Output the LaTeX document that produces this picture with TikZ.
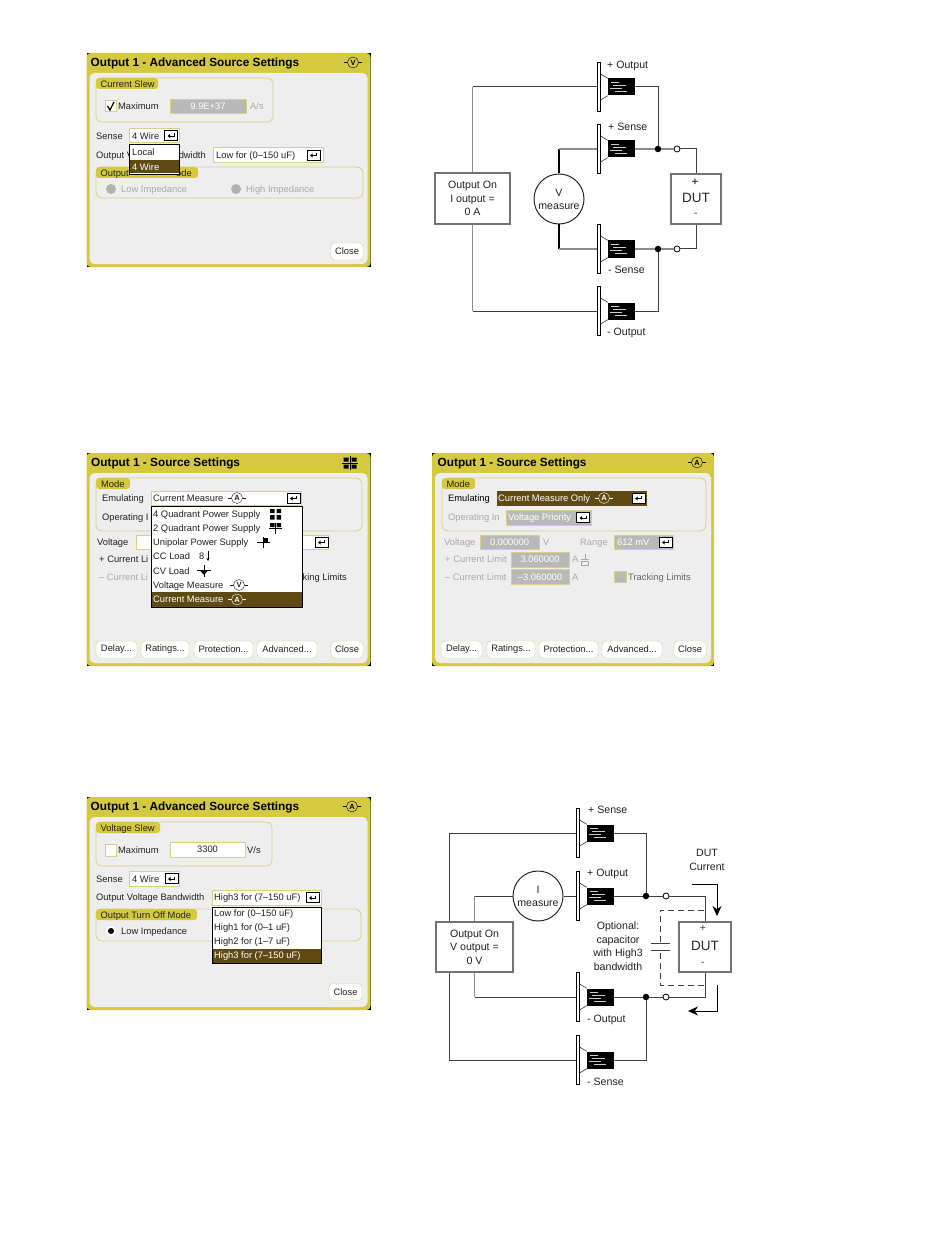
\documentclass[tikz,border=0pt]{standalone}
\usepackage{fontspec}
\setmainfont{Liberation Sans}
\usetikzlibrary{arrows.meta}
\definecolor{panely}{HTML}{D5C940}
\definecolor{panelg}{HTML}{EEEEEE}
\definecolor{edgey}{HTML}{D8D184}
\definecolor{seldark}{HTML}{5E4A12}
\definecolor{dimbox}{HTML}{B9B9B9}
\definecolor{dimtxt}{HTML}{A9A9A9}
\definecolor{inktxt}{HTML}{222222}
\tikzset{
  lbl/.style={anchor=west,inner sep=0pt,text height=8pt,text depth=1.5pt,text=inktxt,font=\fontsize{9.35}{10}\selectfont},
  rlbl/.style={lbl,anchor=east},
  dim/.style={lbl,text=dimtxt},
  seltxt/.style={lbl,text=white},
  ttl/.style={lbl,text=black,font=\fontsize{11.8}{12}\bfseries\selectfont},
  ctr/.style={inner sep=0pt,text=inktxt,align=center,font=\fontsize{9.35}{12.5}\selectfont},
  circtxt/.style={lbl,font=\fontsize{10.6}{11}\selectfont},
  uibtn/.style={draw=edgey,fill=white,rounded corners=4pt,minimum height=17pt,inner sep=0pt,text=inktxt,font=\fontsize{9.35}{10}\selectfont},
  groupbox/.style={draw=edgey,line width=.8pt,rounded corners=6pt},
  grouptab/.style={fill=panely,rounded corners=3pt},
  fieldw/.style={fill=white,draw=edgey,line width=.8pt},
  fieldd/.style={fill=dimbox,draw=edgey,line width=.8pt},
  wire/.style={draw=black!75,line width=1pt},
  graywire/.style={draw=black!45,line width=1.3pt},
  blackwire/.style={draw=black,line width=1.3pt},
  arrowline/.style={draw=black,line width=.8pt},
  plate/.style={draw=black,fill=white,line width=1pt,minimum width=3.5pt,minimum height=49pt,inner sep=0pt},
  coil/.style={fill=black,minimum width=27pt,minimum height=17pt,inner sep=0pt},
  bigbox/.style={draw=black!55,fill=white,line width=1.2pt,inner sep=0pt,text=inktxt,align=center,font=\fontsize{10.6}{13.5}\selectfont},
  dutname/.style={inner sep=0pt,text=black!85,font=\fontsize{13.5}{14}\selectfont},
  dutsign/.style={inner sep=0pt,text=black!75,font=\fontsize{10.6}{11}\selectfont},
  meter/.style={circle,draw=black!85,fill=white,line width=1pt,minimum size=50pt,inner sep=0pt,text=inktxt,align=center,font=\fontsize{10.6}{13}\selectfont},
  jointb/.style={circle,fill=black,minimum size=6.5pt,inner sep=0pt},
  jointw/.style={circle,draw=black,fill=white,line width=.8pt,minimum size=6pt,inner sep=0pt},
}
% panel frame with title bar
\newcommand{\panelbase}[4]{
  \fill[black] (#1,#2) rectangle (#3,#4);
  \fill[panely,rounded corners=4pt] (#1,#2) rectangle (#3,#4);
  \fill[panelg,rounded corners=5pt] (#1+3,#2+20) rectangle (#3-3,#4-3);
}
% enter key of a drop down field
\newcommand{\enterkey}[2]{
  \draw[fill=white,draw=black,line width=.7pt] (#1,#2) rectangle (#1+13,#2+10);
  \draw[line width=.8pt] (#1+9.5,#2+3) -- (#1+9.5,#2+5.5) -- (#1+5,#2+5.5);
  \fill (#1+3,#2+5.5) -- (#1+5.5,#2+3.5) -- (#1+5.5,#2+7.5) -- cycle;
}
% round meter mark
\newcommand{\metermark}[6]{
  \draw[#6,line width=.7pt] (#3-9,#4) -- (#3+9,#4);
  \node[circle,draw=#6,fill=#5,text=#6,inner sep=0pt,minimum size=11pt,font=\fontsize{7.5}{8}\bfseries\selectfont] (#1) at (#3,#4) {#2};
}
% four quadrant mark
\newcommand{\quadmark}[2]{
  \draw[line width=.5pt] (#1-8,#2) -- (#1+8,#2) (#1,#2-7) -- (#1,#2+7);
  \fill (#1-6.5,#2-5.5) rectangle (#1-1.5,#2-1.5) (#1+1.5,#2-5.5) rectangle (#1+6.5,#2-1.5);
  \fill (#1-6.5,#2+1.5) rectangle (#1-1.5,#2+5.5) (#1+1.5,#2+1.5) rectangle (#1+6.5,#2+5.5);
}
% output connector: plate, cone and coil
\newcommand{\connector}[3]{
  \node[plate] (#1bar) at (#2+1.75,#3) {};
  \node[coil] (#1coil) at (#2+24.5,#3) {};
  \draw[line width=.6pt,black!80] (#2+3.5,#3-13) .. controls (#2+7,#3-10) .. (#1coil.north west);
  \draw[line width=.6pt,black!80] (#2+3.5,#3+13) .. controls (#2+7,#3+10) .. (#1coil.south west);
  \foreach \s/\a/\b in {-5/14/22,-2/16/29,1/13/25,4/18/30}
    \draw[black!20,line width=.3pt] (#2+\a,#3+\s) -- (#2+\b,#3+\s);
}

\begin{document}
\begin{tikzpicture}[x=1pt,y=-1pt,>={Stealth[length=10pt,width=9pt]}]
  \path[use as bounding box,fill=white] (0,0) rectangle (950,1241);

  % Panel one, advanced settings, sense list
  \panelbase{86.5}{53}{370.5}{267}
  \node[ttl] (aTitle) at (90.5,63) {Output 1 - Advanced Source Settings};
  \metermark{aMark}{V}{353}{62.5}{panely}{black}
  \draw[groupbox] (96,78) rectangle (273,122);
  \fill[grouptab] (96,78) rectangle (158,89);
  \node[lbl] (aSlew) at (100.5,84) {Current Slew};
  \draw[fieldw] (105,100) rectangle (116,111.5);
  \draw[line width=1.3pt] (107.5,106) -- (110,110) -- (114,102);
  \node[lbl] (aMax) at (118,106) {Maximum};
  \draw[fieldd] (170,99) rectangle (246,113);
  \node[ctr,text=white] (aSlewVal) at (208,106) {9.9E+37};
  \node[dim] (aSlewUnit) at (250,106) {A/s};
  \node[lbl] (aSense) at (96,136) {Sense};
  \draw[fieldw] (129,128) rectangle (179,142);
  \node[lbl] (aWire) at (132,136) {4 Wire};
  \enterkey{164.5}{130.5}
  \node[lbl] (aBandA) at (96,155.5) {Output V};
  \node[rlbl] (aBandB) at (206,155.5) {dwidth};
  \draw[fieldw] (213,147) rectangle (323,162);
  \node[lbl] (aLow) at (216,155) {Low for (0--150 uF)};
  \enterkey{307}{150}
  \draw[groupbox] (96,167) rectangle (363,198);
  \fill[grouptab] (96,167) rectangle (198,178);
  \node[lbl] (aTurnA) at (100.5,173) {Output};
  \node[rlbl] (aTurnB) at (192,173) {ode};
  \fill[black!30] (111,189) circle (5);
  \node[dim] (aLowImp) at (121,189) {Low Impedance};
  \fill[black!30] (236,189) circle (5);
  \node[dim] (aHighImp) at (246,189) {High Impedance};
  \draw[fill=white,line width=.8pt] (129.5,144) rectangle (179.5,174);
  \fill[seldark] (130,160) rectangle (179,173.5);
  \node[lbl] (aLocal) at (132,152) {Local};
  \node[seltxt] (aFour) at (132,167) {4 Wire};
  \node[uibtn,minimum width=32pt] (aClose) at (347,251.5) {Close};

  % Panel one, circuit
  \node[bigbox,minimum width=75pt,minimum height=51pt] (aOutBox) at (472.5,198.5) {Output On\\I output =\\0 A};
  \node[meter] (aMeter) at (559,199) {V\\measure};
  \node[bigbox,minimum width=50pt,minimum height=50pt] (aDut) at (696,199) {};
  \node[dutname] (aDutName) at (696,198) {DUT};
  \node[dutsign,font=\fontsize{11}{11}\bfseries\selectfont] (aDutPlus) at (695,182) {+};
  \node[dutsign] (aDutMinus) at (696,215) {-};
  \connector{aPosOut}{597}{87}
  \connector{aPosSen}{597}{149}
  \connector{aNegSen}{597}{249}
  \connector{aNegOut}{597}{311}
  \node[jointb] (aDotP) at (658,149) {};
  \node[jointw] (aOpenP) at (677,149) {};
  \node[jointb] (aDotN) at (658,249) {};
  \node[jointw] (aOpenN) at (677,249) {};
  \draw[graywire] (aOutBox.north) -- (aOutBox.north |- aPosOutbar.west);
  \draw[wire] (aOutBox.north |- aPosOutbar.west) -- (aPosOutbar.west);
  \draw[graywire] (aOutBox.south) -- (aOutBox.south |- aNegOutbar.west);
  \draw[wire] (aOutBox.south |- aNegOutbar.west) -- (aNegOutbar.west);
  \draw[blackwire] (aMeter.north) -- (aMeter.north |- aPosSenbar.west);
  \draw[graywire] (aMeter.north |- aPosSenbar.west) -- (aPosSenbar.west);
  \draw[blackwire] (aMeter.south) -- (aMeter.south |- aNegSenbar.west);
  \draw[graywire] (aMeter.south |- aNegSenbar.west) -- (aNegSenbar.west);
  \draw[wire] (aPosOutcoil.east) -| (aDotP);
  \draw[wire] (aNegOutcoil.east) -| (aDotN);
  \draw[graywire] (aPosSencoil.east) -- (aDotP);
  \draw[graywire] (aDotP) -- (aOpenP);
  \draw[graywire] (aNegSencoil.east) -- (aDotN);
  \draw[graywire] (aDotN) -- (aOpenN);
  \draw[wire] (aOpenP) -| (aDut.north);
  \draw[wire] (aOpenN) -| (aDut.south);
  \node[circtxt] (aLblPosOut) at (607,65) {+ Output};
  \node[circtxt] (aLblPosSen) at (608,127) {+ Sense};
  \node[circtxt] (aLblNegSen) at (608,270) {- Sense};
  \node[circtxt] (aLblNegOut) at (607,332) {- Output};

  % Panel two, mode list
  \panelbase{86.5}{453}{370.5}{666}
  \node[ttl] (bTitle) at (91,463) {Output 1 - Source Settings};
  \quadmark{350}{463}
  \draw[groupbox] (96,478) rectangle (362,531);
  \fill[grouptab] (96,478) rectangle (130,489);
  \node[lbl] (bMode) at (101,484) {Mode};
  \node[lbl] (bEmu) at (102,498) {Emulating};
  \draw[fieldw] (151,491) rectangle (301,505);
  \node[lbl] (bEmuVal) at (153,498.5) {Current Measure};
  \metermark{bEmuMark}{A}{237}{498}{white}{inktxt}
  \enterkey{287}{493}
  \node[lbl] (bOper) at (102,517) {Operating I};
  \node[lbl] (bVolt) at (97,542) {Voltage};
  \draw[fieldw] (136,535) rectangle (328,549);
  \enterkey{315}{537}
  \node[lbl] (bPlus) at (99,559) {+ Current Li};
  \node[dim] (bMinus) at (99,577) {-- Current Li};
  \node[rlbl] (bTrack) at (347,577.5) {king Limits};
  \draw[fill=white,line width=.8pt] (151,506) rectangle (302,607);
  \fill[seldark] (151.5,592) rectangle (301.5,606.5);
  \node[lbl] (bItemA) at (153,514) {4 Quadrant Power Supply};
  \fill (270,509) rectangle (274.5,513) (276.5,509) rectangle (281,513);
  \fill (270,515) rectangle (274.5,519.5) (276.5,515) rectangle (281,519.5);
  \node[lbl] (bItemB) at (153,528) {2 Quadrant Power Supply};
  \draw[line width=.5pt] (269,528) -- (282,528) (275.5,523) -- (275.5,534);
  \fill (270,523) rectangle (274.5,527) (276.5,523) rectangle (281,527);
  \node[lbl] (bItemC) at (153,542) {Unipolar Power Supply};
  \draw[line width=.6pt] (257,542.5) -- (270,542.5) (263.5,537) -- (263.5,548);
  \fill (264,538) rectangle (268,542);
  \node[lbl] (bItemD) at (153,556) {CC Load};
  \node[lbl] (bEight) at (199,556) {8};
  \draw[line width=.7pt,-{Stealth[length=3pt,width=3pt]}] (208,551) -- (208,561);
  \node[lbl] (bItemE) at (153,571) {CV Load};
  \draw[line width=.7pt] (197,570) -- (211,570) (204,565) -- (204,577);
  \fill (200,570.5) -- (208,570.5) -- (204,575) -- cycle;
  \node[lbl] (bItemF) at (153,585) {Voltage Measure};
  \metermark{bVMark}{V}{239}{585}{white}{inktxt}
  \node[seltxt] (bItemG) at (153,599.5) {Current Measure};
  \metermark{bIMark}{A}{237}{599.5}{seldark}{white}
  \node[uibtn,minimum width=41pt] (bDelay) at (116.5,649.5) {Delay...};
  \node[uibtn,minimum width=48pt] (bRatings) at (165,649.5) {Ratings...};
  \node[uibtn,minimum width=59pt] (bProt) at (223.5,649.5) {Protection...};
  \node[uibtn,minimum width=60pt] (bAdv) at (287,649.5) {Advanced...};
  \node[uibtn,minimum width=32pt] (bClose) at (347,649.5) {Close};

  % Panel three, current measure
  \panelbase{432}{453}{714}{666}
  \node[ttl] (cTitle) at (437.5,463) {Output 1 - Source Settings};
  \metermark{cMark}{A}{697}{462.5}{panely}{black}
  \draw[groupbox] (442,478) rectangle (706,531);
  \fill[grouptab] (442,478) rectangle (475,489);
  \node[lbl] (cMode) at (446.5,484) {Mode};
  \node[lbl,text=black] (cEmu) at (448,498) {Emulating};
  \fill[seldark] (497,491) rectangle (647,506);
  \node[seltxt] (cEmuVal) at (498,498) {Current Measure Only};
  \metermark{cEmuMark}{A}{604}{498}{seldark}{white}
  \enterkey{632}{493}
  \node[dim] (cOper) at (448,517) {Operating In};
  \draw[fieldd] (506,510) rectangle (591,525);
  \node[seltxt] (cPrio) at (508,517.5) {Voltage Priority};
  \enterkey{576.5}{512.5}
  \node[dim] (cVolt) at (444,542) {Voltage};
  \draw[fieldd] (480,535) rectangle (539,549);
  \node[ctr,text=white] (cVoltVal) at (509.5,542) {0.000000};
  \node[dim] (cVoltUnit) at (543,542) {V};
  \node[dim] (cRange) at (580,542) {Range};
  \draw[fieldd] (614,535) rectangle (673,549);
  \node[seltxt] (cRangeVal) at (617,542) {612 mV};
  \enterkey{659}{537}
  \node[dim] (cPlus) at (445,559) {+ Current Limit};
  \draw[fieldd] (511,552) rectangle (569,567);
  \node[ctr,text=white] (cPlusVal) at (540,559.5) {3.060000};
  \node[dim] (cPlusUnit) at (572,559.5) {A};
  \draw[dimtxt,line width=.6pt] (585,554) -- (585,559) (581,559) -- (589,559);
  \draw[dimtxt,line width=.6pt] (581.5,561.5) rectangle (588.5,565.5);
  \node[dim] (cMinus) at (445,577) {-- Current Limit};
  \draw[fieldd] (511,569) rectangle (569,584);
  \node[ctr,text=white] (cMinusVal) at (540,577) {--3.060000};
  \node[dim] (cMinusUnit) at (572,577) {A};
  \draw[fieldd] (614,571) rectangle (626,582);
  \node[lbl,text=black!60] (cTrack) at (628,577.5) {Tracking Limits};
  \node[uibtn,minimum width=41pt] (cDelay) at (461.5,649.5) {Delay...};
  \node[uibtn,minimum width=48pt] (cRatings) at (511,649.5) {Ratings...};
  \node[uibtn,minimum width=59pt] (cProt) at (568.5,649.5) {Protection...};
  \node[uibtn,minimum width=60pt] (cAdv) at (632,649.5) {Advanced...};
  \node[uibtn,minimum width=32pt] (cClose) at (690,649.5) {Close};

  % Panel four, advanced settings, bandwidth list
  \panelbase{86.5}{797}{370.5}{1010}
  \node[ttl] (dTitle) at (90.5,807) {Output 1 - Advanced Source Settings};
  \metermark{dMark}{A}{352}{806.5}{panely}{black}
  \draw[groupbox] (96,822) rectangle (272,866);
  \fill[grouptab] (96,822) rectangle (160,833);
  \node[lbl] (dSlew) at (100.5,828) {Voltage Slew};
  \draw[fieldw] (105,844) rectangle (116,856);
  \node[lbl] (dMax) at (118,850) {Maximum};
  \draw[fieldw] (170,842) rectangle (245,857);
  \node[ctr] (dSlewVal) at (207.5,849.5) {3300};
  \node[lbl] (dSlewUnit) at (247,850) {V/s};
  \node[lbl] (dSense) at (96,879) {Sense};
  \draw[fieldw] (129,871) rectangle (179,886);
  \node[lbl] (dWire) at (132,879) {4 Wire};
  \enterkey{165}{873.5}
  \node[lbl] (dBand) at (96,897) {Output Voltage Bandwidth};
  \draw[fieldw] (212,890) rectangle (321,905);
  \node[lbl] (dHigh) at (214,897.5) {High3 for (7--150 uF)};
  \enterkey{306}{892.5}
  \draw[groupbox] (96,909) rectangle (361,941);
  \fill[grouptab] (96,909) rectangle (197,920);
  \node[lbl] (dTurn) at (100.5,915) {Output Turn Off Mode};
  \fill[white] (111,931) circle (5);
  \fill[black] (111,931) circle (3);
  \node[lbl] (dLowImp) at (121,931) {Low Impedance};
  \draw[fill=white,line width=.8pt] (212.5,907) rectangle (321,963);
  \fill[seldark] (213,949) rectangle (320.5,962.5);
  \node[lbl] (dItemA) at (214,913.5) {Low for (0--150 uF)};
  \node[lbl] (dItemB) at (214,927.5) {High1 for (0--1 uF)};
  \node[lbl] (dItemC) at (214,941) {High2 for (1--7 uF)};
  \node[seltxt] (dItemD) at (214,955.5) {High3 for (7--150 uF)};
  \node[uibtn,minimum width=33pt] (dClose) at (345.5,992) {Close};

  % Panel four, circuit
  \connector{dPosSen}{576}{833}
  \connector{dPosOut}{576}{896}
  \connector{dNegOut}{576}{997}
  \connector{dNegSen}{576}{1060}
  \coordinate (dLeftTop) at (449,922);
  \coordinate (dLeftBot) at (449,972);
  \draw[wire] (dLeftTop) |- (dPosSenbar.west);
  \draw[wire] (dLeftBot) |- (dNegSenbar.west);
  \node[bigbox,minimum width=77pt,minimum height=50pt] (dOutBox) at (474.5,947) {Output On\\V output =\\0 V};
  \node[meter] (dMeter) at (538,896) {I\\measure};
  \node[bigbox,minimum width=52pt,minimum height=50pt] (dDut) at (705,947) {};
  \node[dutname] (dDutName) at (705,946) {DUT};
  \node[dutsign] (dDutPlus) at (703,928) {+};
  \node[dutsign] (dDutMinus) at (703,964) {-};
  \node[jointb] (dDotP) at (646,896) {};
  \node[jointw] (dOpenP) at (666,896) {};
  \node[jointb] (dDotN) at (646,997) {};
  \node[jointw] (dOpenN) at (666,997) {};
  \draw[graywire] (dOutBox.north) -- (dOutBox.north |- dMeter.west);
  \draw[wire] (dOutBox.north |- dMeter.west) -- (dMeter.west);
  \draw[wire] (dMeter.east) -- (dPosOutbar.west);
  \draw[graywire] (dOutBox.south) -- (dOutBox.south |- dNegOutbar.west);
  \draw[wire] (dOutBox.south |- dNegOutbar.west) -- (dNegOutbar.west);
  \draw[wire] (dPosSencoil.east) -| (dDotP);
  \draw[wire] (dNegSencoil.east) -| (dDotN);
  \draw[wire] (dPosOutcoil.east) -- (dDotP);
  \draw[wire] (dDotP) -- (dOpenP);
  \draw[wire] (dNegOutcoil.east) -- (dDotN);
  \draw[wire] (dDotN) -- (dOpenN);
  \draw[wire] (dOpenP) -| (dDut.north);
  \draw[wire] (dOpenN) -| (dDut.south);
  % Optional capacitor
  \coordinate (dCapTop) at (660,943);
  \coordinate (dCapBot) at (660,950);
  \coordinate (dDashTop) at (704,910);
  \coordinate (dDashBot) at (704,985);
  \draw[wire,line width=.8pt,dash pattern=on 6pt off 4pt] (dDashTop) -| (dCapTop);
  \draw[wire,line width=.8pt,dash pattern=on 6pt off 4pt] (dDashBot) -| (dCapBot);
  \draw[wire,line width=.8pt] (651,943) -- (670,943) (651,950) -- (670,950);
  % Current arrows
  \coordinate (dArrInA) at (692,884);
  \coordinate (dArrInB) at (717,916);
  \coordinate (dArrOutA) at (717,985);
  \coordinate (dArrOutB) at (688,1011);
  \draw[arrowline,->] (dArrInA) -| (dArrInB);
  \draw[arrowline,->] (dArrOutA) |- (dArrOutB);
  \node[ctr,font=\fontsize{10.6}{14}\selectfont] (dCurLbl) at (707,860) {DUT\\Current};
  \node[ctr,font=\fontsize{10.6}{13.6}\selectfont] (dOptLbl) at (618,946) {Optional:\\capacitor\\with High3\\bandwidth};
  \node[circtxt] (dLblPosSen) at (588,810) {+ Sense};
  \node[circtxt] (dLblPosOut) at (587,873) {+ Output};
  \node[circtxt] (dLblNegOut) at (587,1019) {- Output};
  \node[circtxt] (dLblNegSen) at (587,1082) {- Sense};
\end{tikzpicture}
\end{document}
